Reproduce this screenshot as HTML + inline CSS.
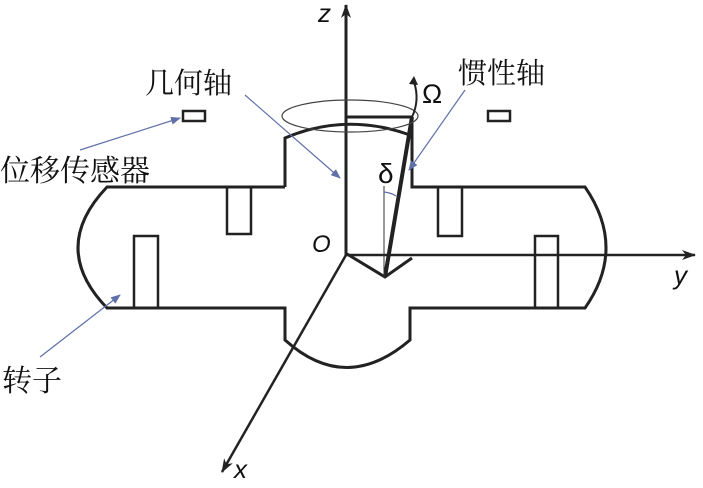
<!DOCTYPE html>
<html><head><meta charset="utf-8"><style>
body{margin:0;background:#fff}
text{font-family:"Liberation Sans","Noto Sans CJK SC",sans-serif}
.cn{font-family:"Liberation Serif","Noto Serif CJK SC",serif}
</style></head><body>
<svg width="703" height="483" viewBox="0 0 703 483" xmlns="http://www.w3.org/2000/svg">
<defs>
<marker id="ab" markerWidth="10" markerHeight="8" refX="9" refY="4" orient="auto" markerUnits="userSpaceOnUse"><path d="M0,0 L10,4 L0,8 Z" fill="#6070a8"/></marker>
<marker id="ak" markerWidth="14" markerHeight="10" refX="13" refY="5" orient="auto" markerUnits="userSpaceOnUse"><path d="M0,0 L14,5 L0,10 L4,5 Z" fill="#222"/></marker>
</defs>
<g stroke="#222" stroke-width="3" fill="none">
<path d="M285,187 L107,187 Q49,248 107,308 L285,308 L285,340 Q346,395 410,340 L410,308 L585,308 Q627,248 585,187 L412,187 L412,117"/>
<path d="M285,187 L285,138 Q346,112 410,135"/>
<rect x="227" y="187" width="24" height="47" stroke-width="2.5"/>
<rect x="134" y="236" width="24" height="72" stroke-width="2.5"/>
<rect x="438" y="187" width="24" height="49" stroke-width="2.5"/>
<rect x="535" y="236" width="23" height="72" stroke-width="2.5"/>
<rect x="183" y="111" width="22" height="10" stroke-width="2.5"/>
<rect x="488" y="111" width="22" height="10" stroke-width="2.5"/>
<line x1="346" y1="117" x2="412" y2="117"/>
<path d="M347,254 L385,277 L412,258"/>
<line x1="385" y1="277" x2="412" y2="117" stroke-width="4"/>
<line x1="346" y1="255" x2="346" y2="5" marker-end="url(#ak)" stroke-width="3"/>
<line x1="346" y1="255" x2="695" y2="255" marker-end="url(#ak)" stroke-width="2.5"/>
<line x1="346" y1="255" x2="222" y2="472" marker-end="url(#ak)" stroke-width="2.5"/>
</g>
<line x1="384" y1="186" x2="384" y2="277" stroke="#333" stroke-width="1"/>
<path d="M384,192 Q392,193 396,196" stroke="#6070a8" stroke-width="1.2" fill="none"/>
<ellipse cx="350" cy="116" rx="68" ry="16" fill="none" stroke="#444" stroke-width="1.2"/>
<path d="M412,117 Q420,100 414,82" stroke="#222" stroke-width="2" fill="none"/>
<path d="M409,84 L414,76 L418,85 Z" fill="#222"/>
<g stroke="#6070a8" stroke-width="1.2" fill="none">
<line x1="245" y1="95" x2="340" y2="178" marker-end="url(#ab)"/>
<line x1="465" y1="90" x2="409" y2="170" marker-end="url(#ab)"/>
<line x1="80" y1="150" x2="180" y2="118" marker-end="url(#ab)"/>
<line x1="40" y1="357" x2="120" y2="295" marker-end="url(#ab)"/>
</g>
<g fill="#111">
<text class="cn" x="145" y="93" font-size="29">几何轴</text>
<text class="cn" x="458" y="83" font-size="29">惯性轴</text>
<text class="cn" x="0" y="181" font-size="30">位移传感器</text>
<text class="cn" x="2" y="391" font-size="30">转子</text>
<text x="318" y="22" font-size="26" font-style="italic">z</text>
<text x="674" y="284" font-size="26" font-style="italic">y</text>
<text x="234" y="478" font-size="26" font-style="italic">x</text>
<text x="312" y="252" font-size="24" font-style="italic">O</text>
<text x="422" y="103" font-size="27">Ω</text>
<text x="378" y="183" font-size="28">δ</text>
</g>
</svg>
</body></html>
